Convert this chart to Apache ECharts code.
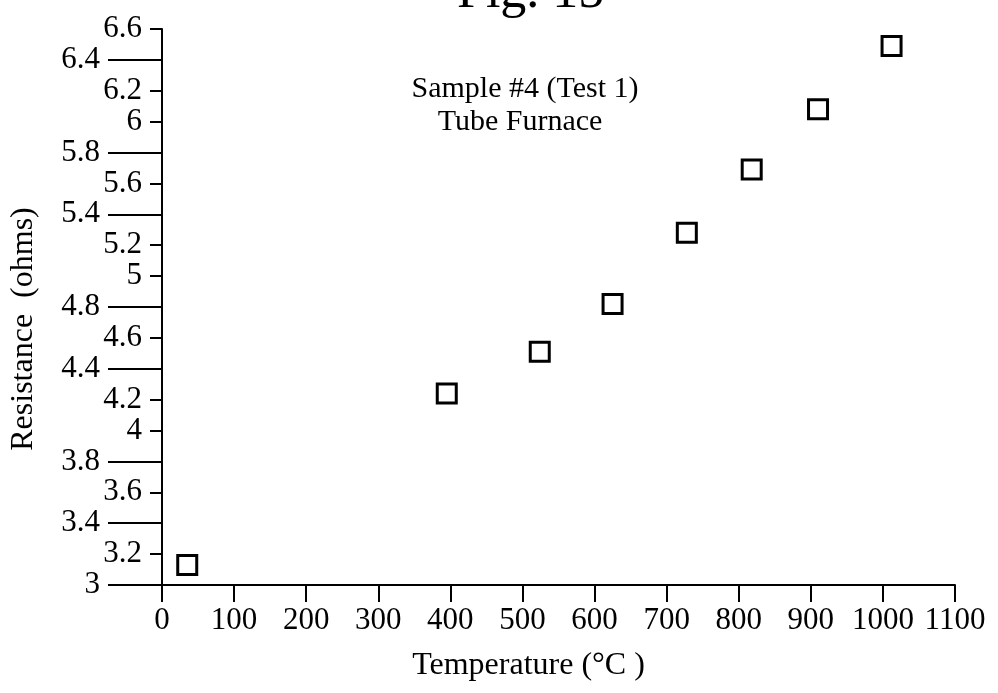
<!DOCTYPE html>
<html>
<head>
<meta charset="utf-8">
<title>Fig. 15</title>
<script src="https://cdn.jsdelivr.net/npm/echarts@6/dist/echarts.min.js"></script>
<style>
  html, body { margin: 0; padding: 0; background: #fff; }
  #chart { width: 998px; height: 693px; }
</style>
</head>
<body>
<div id="chart"></div>
<script>
// Measured resistance of sample #4 (test 1) in the tube furnace
const temperatures = [35, 395, 524, 625, 728, 818, 910, 1012];
const resistances = [3.13, 4.24, 4.51, 4.82, 5.28, 5.69, 6.08, 6.49];

// Resistance axis: labels alternate between short ticks and long ticks
const shortTicks = [3.2, 3.6, 4.0, 4.2, 4.6, 5.0, 5.2, 5.6, 6.0, 6.2, 6.6];
const longTicks = [3.0, 3.4, 3.8, 4.4, 4.8, 5.4, 5.8, 6.4];
const xTicks = [0, 100, 200, 300, 400, 500, 600, 700, 800, 900, 1000, 1100];

const FONT = '"Liberation Serif", "Times New Roman", serif';
const fmt = v => String(+Number(v).toFixed(1));

const chart = echarts.init(document.getElementById('chart'), null, { renderer: 'canvas' });

const yBase = {
  type: 'value',
  min: 3,
  max: 6.6,
  position: 'left',
  gridIndex: 0,
  splitLine: { show: false }
};

chart.setOption({
  backgroundColor: '#ffffff',
  animation: false,
  title: {
    text: 'Fig. 15',
    left: 457,
    top: -33,
    padding: 0,
    textStyle: { fontFamily: FONT, fontSize: 52, fontWeight: 'normal', color: '#000', lineHeight: 52 }
  },
  grid: { left: 162, right: 43, top: 29, bottom: 108, containLabel: false, outerBoundsMode: 'none' },
  xAxis: {
    type: 'value',
    min: 0,
    max: 1100,
    interval: 100,
    name: 'Temperature (\u00B0C )',
    nameLocation: 'middle',
    nameGap: 65,
    nameTextStyle: { fontFamily: FONT, fontSize: 32, color: '#000', padding: [0, 60, 0, 0] },
    axisLine: { show: true, onZero: false, lineStyle: { color: '#000', width: 2 } },
    axisTick: { show: true, length: 17, lineStyle: { color: '#000', width: 2 }, customValues: xTicks },
    axisLabel: { show: true, margin: 20, fontFamily: FONT, fontSize: 31, color: '#000', customValues: xTicks, formatter: v => String(v) },
    splitLine: { show: false }
  },
  yAxis: [
    Object.assign({}, yBase, {
      name: 'Resistance  (ohms)',
      nameLocation: 'middle',
      nameRotate: 90,
      nameGap: 122,
      nameTextStyle: { fontFamily: FONT, fontSize: 32, color: '#000', padding: [0, 44, 0, 0] },
      axisLine: { show: true, onZero: false, lineStyle: { color: '#000', width: 2 } },
      axisTick: { show: true, length: 12, lineStyle: { color: '#000', width: 2 }, customValues: shortTicks },
      axisLabel: { show: true, margin: 20, fontFamily: FONT, fontSize: 31, color: '#000', customValues: shortTicks, formatter: fmt }
    }),
    Object.assign({}, yBase, {
      offset: 0,
      axisLine: { show: false },
      axisTick: { show: true, length: 54, lineStyle: { color: '#000', width: 2 }, customValues: longTicks },
      axisLabel: { show: true, margin: 62, fontFamily: FONT, fontSize: 31, color: '#000', customValues: longTicks, formatter: fmt }
    })
  ],
  graphic: [
    {
      type: 'text',
      x: 525,
      y: 89,
      style: { text: 'Sample #4 (Test 1)', font: '30px ' + FONT, fill: '#000', textAlign: 'center', textVerticalAlign: 'middle' }
    },
    {
      type: 'text',
      x: 520,
      y: 122,
      style: { text: 'Tube Furnace', font: '30px ' + FONT, fill: '#000', textAlign: 'center', textVerticalAlign: 'middle' }
    }
  ],
  series: [
    {
      type: 'scatter',
      xAxisIndex: 0,
      yAxisIndex: 0,
      data: temperatures.map((t, i) => [t, resistances[i]]),
      symbol: 'rect',
      symbolSize: 19,
      itemStyle: { color: '#fff', borderColor: '#000', borderWidth: 3, opacity: 1 }
    }
  ]
});
</script>
</body>
</html>
